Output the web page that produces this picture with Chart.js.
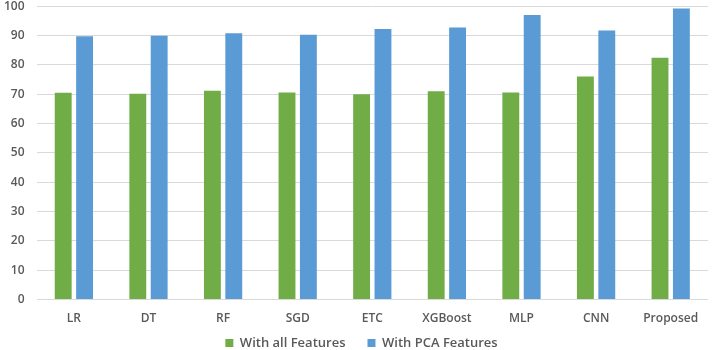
<!DOCTYPE html>
<html>
<head>
<meta charset="utf-8">
<script src="https://cdn.jsdelivr.net/npm/chart.js@4/dist/chart.umd.min.js"></script>
<style>
  html, body { margin: 0; padding: 0; background: #fff; overflow: hidden; }
  #wrap { position: absolute; left: -8px; top: -13px; width: 721px; height: 376px; }
</style>
</head>
<body>
<div id="wrap"><canvas id="accChart"></canvas></div>
<script>
// Chart data
const categories = ['LR', 'DT', 'RF', 'SGD', 'ETC', 'XGBoost', 'MLP', 'CNN', 'Proposed'];
const allFeatures = [70.5, 70.2, 71.2, 70.6, 70.0, 71.0, 70.6, 76.0, 82.4];
const pcaFeatures = [89.8, 89.9, 90.8, 90.3, 92.2, 92.7, 97.0, 91.7, 99.2];
const yTicks = [0, 10, 20, 30, 40, 50, 60, 70, 80, 90, 100];

const textColor = '#595959';
const fontFamily = '"Open Sans", "Noto Sans", sans-serif';

// Pull the legend up under the axis labels (wide label padding adds height otherwise)
const legendOffset = {
  id: 'legendOffset',
  beforeDraw(chart) {
    chart.legend.top = chart.chartArea.bottom + 15;
    chart.legend.left = 9;
    chart.legend.right = chart.width + 9;
  }
};

const ctx = document.getElementById('accChart').getContext('2d');
new Chart(ctx, {
  type: 'bar',
  data: {
    labels: categories,
    datasets: [{
      label: 'With all Features',
      data: allFeatures,
      backgroundColor: '#70AD47',
      categoryPercentage: 0.573,
      barPercentage: 0.79
    }, {
      label: 'With PCA Features',
      data: pcaFeatures,
      backgroundColor: '#5B9BD5',
      categoryPercentage: 0.573,
      barPercentage: 0.79
    }]
  },
  options: {
    responsive: true,
    maintainAspectRatio: false,
    animation: false,
    layout: { padding: { top: 0, right: 5, left: 0, bottom: 0 } },
    plugins: {
      legend: {
        position: 'bottom',
        maxHeight: 25,
        labels: {
          color: textColor,
          font: { family: fontFamily, size: 13, weight: '600' },
          boxWidth: 8,
          boxHeight: 8,
          padding: 22
        }
      },
      tooltip: { enabled: false }
    },
    scales: {
      x: {
        grid: { display: false, drawTicks: false },
        border: { display: false },
        ticks: {
          color: textColor,
          font: { family: fontFamily, size: 12, weight: '600' },
          padding: 12
        }
      },
      y: {
        min: 0,
        max: 100,
        afterBuildTicks: (axis) => { axis.ticks = yTicks.map(v => ({ value: v })); },
        grid: { color: '#D9D9D9', lineWidth: 1, drawTicks: false },
        border: { display: false },
        ticks: {
          color: textColor,
          font: { family: fontFamily, size: 12, weight: '600' },
          padding: 12
        }
      }
    }
  },
  plugins: [legendOffset]
});
</script>
</body>
</html>
